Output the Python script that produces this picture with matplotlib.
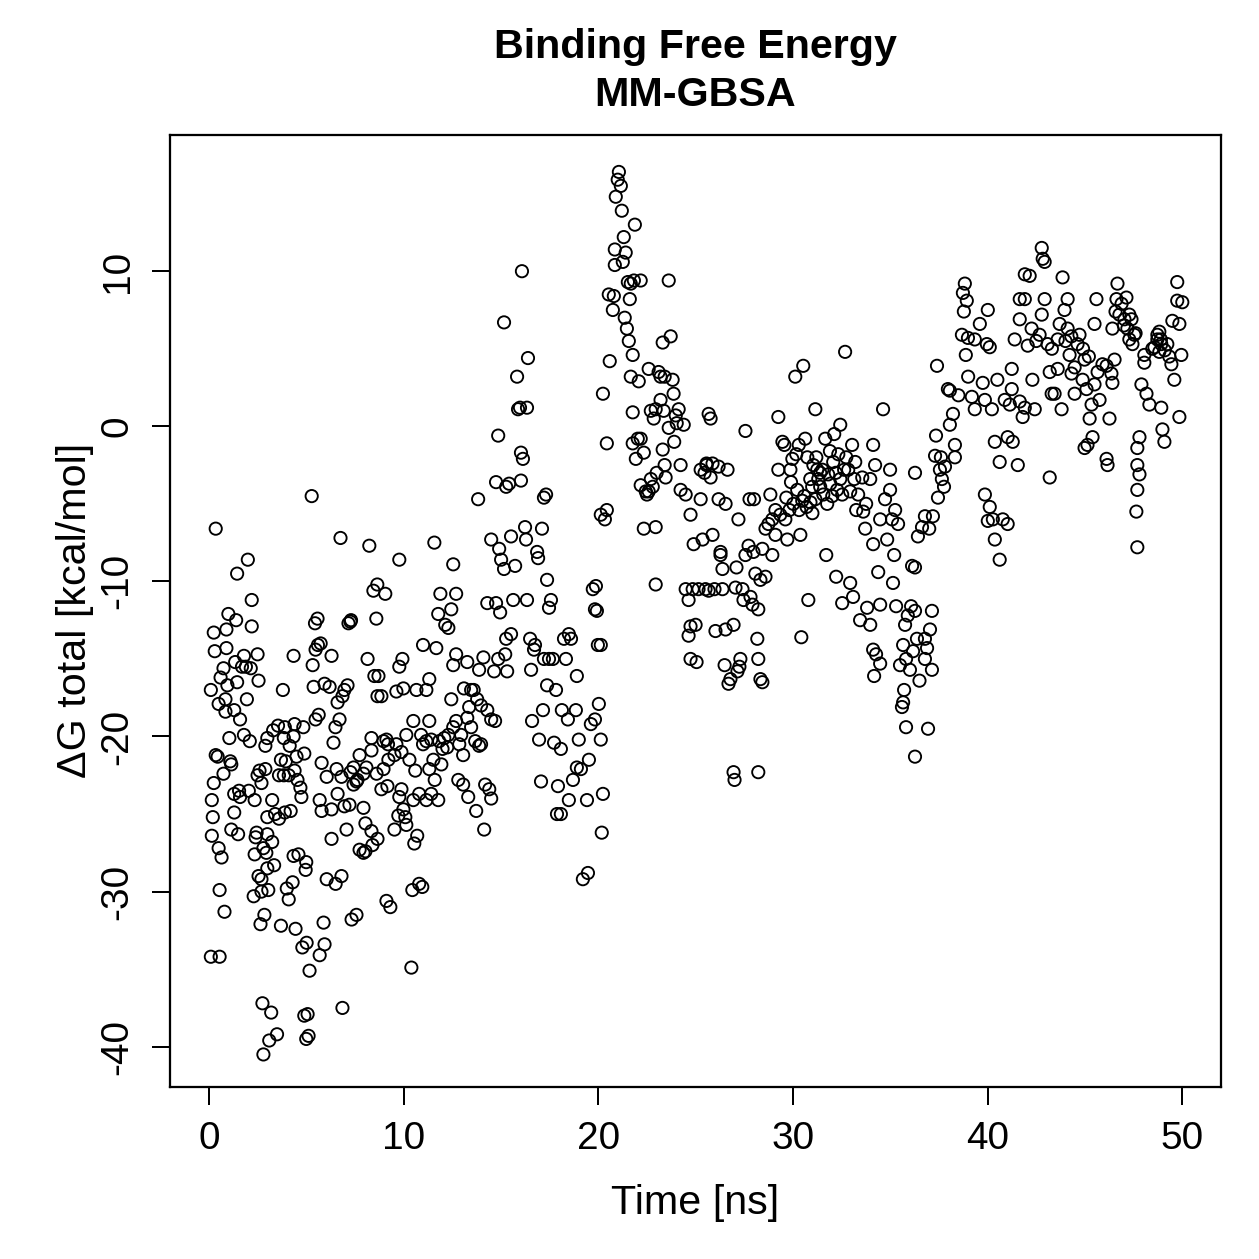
import numpy as np
import matplotlib.pyplot as plt

plt.rcParams['font.family'] = ['Liberation Sans', 'DejaVu Sans']
plt.rcParams['axes.unicode_minus'] = False

# dG total [kcal/mol] vs time [ns] in pieces of the run
seg_0_5 = [(0.1,-17.0),(0.15,-26.4),(0.2,-25.2),(0.1,-34.2),(0.55,-34.2),(0.35,-6.6),(0.3,-14.5),(0.35,-21.2),
           (0.45,-21.3),(0.5,-17.9),(0.6,-16.2),(0.55,-29.9),(0.65,-27.8),(0.75,-22.4),(0.8,-31.3),(0.85,-17.6),
           (0.85,-18.4),(0.9,-14.3),(0.95,-16.7),(1.0,-12.1),(1.05,-20.1),(1.1,-21.6),(1.15,-21.8),(1.15,-26.0),
           (1.3,-23.7),(1.3,-24.9),(1.45,-9.5),(1.4,-12.5),(1.45,-16.5),(1.5,-26.3),(1.55,-23.5),(1.6,-18.9),
           (1.7,-15.5),(1.8,-19.9),(1.9,-15.5),(1.95,-17.6),(2.0,-8.6),(2.05,-23.5),(2.1,-20.3),(2.15,-15.6),
           (2.2,-11.2),(2.2,-12.9),(2.3,-30.3),(2.4,-26.5),(2.45,-26.2),(2.5,-22.5),(2.55,-29.0),(2.6,-22.2),
           (2.65,-32.1),(2.7,-30.0),(2.75,-37.2),(2.8,-40.5),(2.85,-31.5),(2.9,-22.1),(2.95,-27.5),(3.0,-26.3),
           (3.05,-29.9),(3.1,-39.6),(3.2,-37.8),(3.25,-26.8),(3.3,-19.6),(3.35,-28.3),(3.5,-39.2),(3.4,-25.0),
           (3.55,-19.3),(3.6,-25.3),(3.7,-32.2),(3.7,-21.5),(3.8,-17.0),(3.85,-22.5),(3.9,-24.9),(3.95,-21.6),
           (4.0,-29.8),(4.1,-22.5),(4.1,-30.5),(4.2,-24.8),(4.3,-29.4),(4.35,-14.8),(4.4,-22.2),(4.45,-32.4),
           (4.5,-21.3),(4.55,-22.8),(4.6,-27.6),(4.7,-23.3),(4.75,-23.9),(4.8,-33.6),(4.9,-38.0),(4.9,-21.1),
           (5.0,-28.1),(5.0,-39.5),(3.9,-19.4),(4.4,-19.2),(4.85,-19.4),(3.85,-20.1),(4.35,-20.0),(4.15,-20.6),
           (0.25,-23.0),(2.7,-23.0),(3.6,-22.5),(1.6,-23.9),(2.35,-24.1),(3.25,-24.1),(0.15,-24.1),(3.0,-25.2),
           (2.35,-27.6),(2.8,-27.2),(4.35,-27.7),(3.0,-28.5),(2.7,-29.2),(0.5,-27.2),(0.25,-13.3),(0.9,-13.1),
           (2.5,-14.7),(1.8,-14.8),(0.75,-15.6),(1.35,-15.2),(2.55,-16.4),(1.3,-18.3),(2.9,-20.6),(3.0,-20.1)]

seg_5_10 = [(5.28,-4.5),(6.76,-7.2),(8.24,-7.7),(9.78,-8.6),(8.65,-10.2),(8.45,-10.6),(8.6,-12.4),(9.06,-10.8),
            (7.27,-12.6),(7.17,-12.7),(6.96,-17.0),(7.12,-16.7),(6.86,-17.4),(5.94,-16.6),(5.58,-12.4),(5.74,-14.0),
            (5.48,-14.4),(6.3,-14.8),(5.33,-15.4),(5.38,-16.8),(6.61,-17.8),(6.71,-18.9),(5.48,-18.9),(5.64,-18.6),
            (5.79,-21.7),(6.4,-20.4),(6.05,-22.6),(6.81,-22.6),(7.58,-22.9),(7.43,-23.1),(7.63,-22.8),(7.74,-21.2),
            (8.35,-20.1),(8.66,-17.4),(8.86,-17.4),(8.71,-16.1),(9.78,-15.5),(9.94,-15.0),(9.99,-16.9),(9.63,-17.1),
            (8.15,-15.0),(8.09,-22.0),(7.94,-22.4),(7.27,-22.3),(8.35,-20.9),(9.12,-20.2),(8.97,-20.3),(9.63,-20.5),
            (9.89,-21.0),(8.97,-22.1),(9.22,-21.5),(8.86,-23.4),(9.17,-23.2),(8.61,-22.4),(9.89,-23.4),(9.78,-23.9),
            (9.99,-24.7),(10.09,-25.2),(5.69,-24.1),(5.79,-24.8),(6.3,-24.7),(6.61,-23.7),(6.96,-24.5),(7.22,-24.4),
            (7.94,-24.6),(8.04,-25.6),(8.35,-26.1),(8.04,-27.4),(7.74,-27.3),(7.94,-27.5),(8.4,-27.0),(8.66,-26.6),
            (9.53,-26.0),(9.73,-25.1),(10.14,-25.7),(9.12,-30.6),(9.32,-31.0),(7.58,-31.5),(7.33,-31.8),(6.51,-29.5),
            (6.81,-29.0),(6.05,-29.2),(5.89,-32.0),(5.94,-33.4),(5.69,-34.1),(6.86,-37.5),(5.07,-37.9),(5.12,-39.3),
            (5.17,-35.1),(5.02,-33.3),(4.97,-28.6),(6.3,-26.6),(7.07,-26.0),(7.43,-22.0),(6.56,-22.1),(9.53,-21.2),
            (10.14,-19.9),(5.45,-12.7),(5.6,-14.1),(6.2,-16.8),(7.3,-12.5),(8.5,-16.1),(9.2,-20.5),(6.5,-19.4)]

seg_10_15 = [(10.4,-34.9),(10.45,-29.9),(10.8,-29.5),(10.96,-29.7),(10.55,-26.9),(10.7,-26.4),(10.5,-24.1),
             (10.8,-23.7),(11.17,-24.1),(11.42,-23.7),(11.78,-24.1),(11.32,-22.1),(11.53,-21.5),(11.94,-21.8),
             (12.24,-20.7),(11.0,-20.5),(11.17,-20.3),(11.42,-20.2),(11.83,-20.3),(12.09,-20.1),(12.3,-19.9),
             (10.5,-19.0),(10.9,-19.9),(11.32,-19.0),(10.66,-17.0),(11.17,-17.0),(11.32,-16.3),(11.0,-14.1),
             (11.68,-14.3),(11.58,-7.5),(11.89,-10.8),(11.78,-12.1),(12.14,-12.8),(12.45,-11.8),(12.55,-8.9),
             (12.7,-10.8),(12.3,-13.0),(12.7,-14.7),(12.55,-15.4),(12.45,-17.6),(12.7,-19.0),(12.55,-19.4),
             (12.86,-20.5),(12.96,-19.9),(13.27,-18.8),(13.47,-17.0),(13.27,-15.2),(13.47,-19.4),(13.68,-20.3),
             (13.88,-20.6),(12.81,-22.8),(13.06,-23.1),(13.32,-23.9),(13.73,-24.8),(13.06,-21.2),(13.37,-18.1),
             (13.78,-17.6),(13.98,-18.0),(13.98,-20.5),(13.88,-15.7),(13.83,-4.7),(14.14,-26.0),(14.19,-23.1),
             (14.4,-23.4),(14.5,-24.0),(14.3,-11.4),(14.5,-7.3),(14.65,-15.8),(14.5,-18.9),(14.3,-18.3),
             (14.7,-19.0),(14.86,-15.0),(14.75,-11.4),(14.96,-12.0),(14.86,-0.6),(14.91,-7.9),(15.01,-8.6),
             (14.75,-3.6),(10.3,-21.5),(10.6,-22.2),(11.6,-22.8),(12.0,-20.8),(13.1,-16.9),(13.6,-17.0),(14.1,-14.9)]

seg_15_24 = [(15.16,6.7),(15.16,-9.2),(15.27,-3.9),(15.42,-3.7),(15.27,-13.7),(15.22,-14.7),(15.32,-15.8),
             (15.52,-13.4),(15.52,-7.1),(15.63,-11.2),(15.73,-9.0),(15.83,3.2),(15.88,1.1),(15.98,1.2),(16.03,-3.5),
             (16.08,10.0),(16.03,-1.7),(16.13,-2.1),(16.34,1.2),(16.39,4.4),(16.24,-6.5),(16.29,-7.3),(16.34,-11.2),
             (16.5,-13.7),(16.55,-15.7),(16.6,-19.0),(16.7,-14.4),(16.75,-14.1),(16.86,-8.1),(16.91,-8.5),
             (16.96,-20.2),(17.06,-22.9),(17.11,-6.6),(17.21,-4.6),(17.32,-4.4),(17.16,-18.3),(17.21,-15.0),
             (17.37,-16.7),(17.47,-15.0),(17.37,-9.9),(17.47,-11.7),(17.57,-11.2),(17.67,-15.0),(17.83,-17.0),
             (17.73,-20.4),(17.88,-25.0),(18.08,-25.0),(17.93,-23.2),(18.08,-20.8),(18.13,-18.3),(18.24,-13.7),
             (18.34,-15.0),(18.49,-13.4),(18.6,-13.7),(18.44,-18.9),(18.49,-24.1),(18.7,-22.8),(18.85,-18.3),
             (18.9,-16.1),(19.0,-20.2),(18.9,-22.0),(19.11,-22.1),(19.21,-29.2),(19.47,-28.8),(19.42,-24.1),
             (19.52,-21.5),(19.62,-19.2),(19.72,-10.5),(19.88,-10.3),(19.83,-11.8),(19.93,-11.9),(19.98,-14.1),
             (20.03,-17.9),(19.83,-18.9),(20.13,-20.2),(20.24,-23.7),(20.18,-26.2),(20.13,-14.1),(20.13,-5.7),
             (20.34,-6.0),(20.44,-5.4),(20.44,-1.1),(20.24,2.1),(20.59,4.2),(20.54,8.5),(20.75,7.5),(20.8,8.4),
             (20.85,10.4),(20.85,11.4),(20.9,14.8),(21.0,15.9),(21.06,16.4),(21.16,15.5),(21.21,13.9),(21.26,10.6),
             (21.31,12.2),(21.41,11.2),(21.52,9.3),(21.62,8.2),(21.67,9.2),(21.88,13.0),(21.83,9.4),(21.36,7.0),
             (21.47,6.3),(21.57,5.5),(21.77,4.6),(22.18,9.4),(21.67,3.2),(21.77,0.9),(21.77,-1.1),(21.93,-2.1),
             (22.08,2.9),(22.03,-0.8),(22.18,-0.8),(22.34,-1.7),(22.18,-3.8),(22.44,-4.2),(22.59,-4.2),(22.34,-6.6),
             (22.7,-3.4),(22.8,-3.9),(22.7,1.0),(22.59,3.7),(22.85,0.5),(22.95,1.1),(22.95,-6.5),(22.95,-10.2),
             (23.1,3.5),(23.2,3.2),(23.31,5.4),(23.41,3.2),(23.2,1.7),(23.36,1.0),(23.31,-1.5),(23.41,-2.5),
             (23.46,-3.3),(23.62,-0.1),(23.62,9.4),(23.72,5.8),(23.82,3.0),(23.87,2.1),(23.98,0.7),(24.03,0.2),
             (24.13,1.1),(24.23,-4.1),(24.39,0.1),(24.49,-4.4),(24.23,-2.5),(22.5,-4.4),(23.0,-3.0),(23.9,-1.0)]

seg_24_34 = [(24.49,-10.5),(24.64,-11.2),(24.64,-13.5),(24.74,-15.0),(24.74,-12.9),(24.9,-7.6),(24.74,-5.7),
             (24.85,-10.5),(25.0,-12.8),(25.05,-15.2),(25.15,-10.5),(25.26,-2.8),(25.26,-4.7),(25.36,-7.3),
             (25.46,-3.0),(25.56,-2.5),(25.67,0.8),(25.77,0.5),(25.51,-10.5),(25.67,-10.6),(25.56,-2.4),(25.77,-3.3),
             (25.87,-2.4),(25.87,-7.0),(25.97,-10.5),(26.02,-13.2),(26.18,-4.7),(26.18,-2.6),(26.28,-8.1),
             (26.28,-8.3),(26.38,-9.2),(26.38,-10.5),(26.49,-15.4),(26.54,-5.0),(26.54,-13.1),(26.64,-2.8),
             (26.69,-16.6),(26.79,-16.3),(26.95,-22.3),(27.0,-22.8),(27.05,-10.4),(26.95,-12.8),(27.1,-9.1),
             (27.15,-15.8),(27.25,-15.5),(27.3,-15.0),(27.2,-6.0),(27.41,-10.5),(27.56,-0.3),(27.46,-11.2),
             (27.56,-8.3),(27.72,-7.7),(27.77,-4.7),(27.82,-11.0),(27.92,-11.5),(27.97,-8.1),(28.07,-9.5),
             (28.17,-13.7),(28.22,-11.8),(28.22,-15.0),(28.22,-22.3),(28.33,-16.3),(28.43,-16.5),(28.33,-9.9),
             (28.43,-7.9),(28.59,-9.7),(28.59,-6.6),(28.74,-6.3),(28.94,-6.0),(28.84,-4.4),(28.94,-8.3),(29.1,-7.0),
             (29.1,-5.4),(29.25,0.6),(29.25,-2.8),(29.35,-5.7),(29.46,-1.0),(29.56,-1.2),(29.61,-6.0),(29.66,-4.6),
             (29.71,-7.3),(29.82,-5.4),(29.87,-2.8),(29.97,-2.1),(30.02,-5.0),(30.12,3.2),(30.17,-1.8),(30.22,-4.1),
             (30.32,-5.4),(30.38,-7.0),(30.43,-13.6),(30.48,-4.8),(30.53,3.9),(30.58,-4.5),(30.63,-0.8),(30.74,-2.0),
             (30.79,-11.2),(30.89,-3.4),(30.99,-3.9),(31.05,-2.5),(31.15,1.1),(31.15,-4.7),(31.25,-2.8),(31.3,-3.4),
             (31.4,-3.9),(31.51,-2.8),(31.56,-4.4),(31.66,-0.8),(31.71,-8.3),(31.76,-5.0),(31.81,-3.1),(31.92,-3.7),
             (32.02,-4.5),(32.07,-2.3),(32.12,-0.5),(32.22,-9.7),(32.27,-4.1),(32.33,-1.8),(32.43,0.1),(32.43,-3.4),
             (32.53,-11.4),(32.53,-4.4),(32.63,-2.8),(32.68,4.8),(32.74,-2.0),(32.84,-2.8),(32.94,-10.1),
             (32.94,-4.2),(33.04,-1.2),(33.09,-11.0),(33.15,-3.4),(33.2,-2.3),(33.25,-5.4),(33.35,-4.4),
             (33.45,-12.5),(33.56,-3.3),(33.61,-5.5),(33.71,-6.6),(33.76,-5.0),(31.0,-5.6),(31.4,-3.0),(30.9,-4.9),
             (29.9,-3.6),(30.7,-5.2),(31.9,-1.6),(32.2,-3.0),(28.0,-4.7),(31.2,-2.0),(30.3,-1.2)]

seg_34_38 = [(34.63,1.1),(34.12,-1.2),(34.12,-7.6),(34.84,-7.3),(34.38,-9.4),(35.14,-10.1),(34.48,-11.5),
             (33.97,-12.8),(33.81,-11.7),(34.12,-14.4),(34.17,-16.1),(34.27,-14.7),(34.48,-15.3),(34.73,-4.7),
             (34.99,-4.1),(35.25,-5.4),(35.4,-6.3),(35.76,-12.8),(35.66,-14.1),(35.5,-15.4),(35.81,-15.0),
             (35.66,-17.8),(35.6,-18.1),(35.71,-17.0),(35.81,-19.4),(36.12,-9.0),(36.27,-9.1),(36.07,-11.6),
             (36.27,-11.9),(36.37,-13.7),(36.17,-14.5),(36.01,-15.7),(36.78,-15.0),(36.89,-14.3),(37.04,-13.1),
             (37.14,-11.9),(36.78,-13.7),(37.14,-15.7),(36.94,-19.5),(36.27,-21.3),(36.27,-3.0),(36.42,-7.1),
             (36.63,-6.5),(36.78,-5.8),(37.19,-5.8),(37.35,-0.6),(37.3,-1.9),(37.55,-2.8),(37.65,-3.4),
             (37.45,-4.6),(37.76,-3.9),(37.81,-2.6),(37.6,-2.0),(33.97,-3.4),(34.22,-2.5),(34.48,-6.0),
             (35.09,-6.0),(34.99,-2.8),(35.3,-11.6),(35.9,-12.2),(36.5,-16.4),(35.2,-8.3),(37.0,-6.6)]

seg_38_50 = [(37.4,3.9),(37.96,2.4),(38.06,2.3),(38.22,0.8),(38.06,0.1),(38.32,-1.2),(38.32,-2.0),(38.68,5.9),
             (38.78,7.4),(38.83,9.2),(38.73,8.6),(38.93,8.1),(38.99,5.7),(38.88,4.6),(39.34,5.6),(39.6,6.6),
             (39.19,1.9),(39.34,1.1),(39.75,2.8),(39.86,1.7),(39.96,5.3),(40.11,5.1),(40.01,7.5),(40.22,1.1),
             (39.86,-4.4),(40.11,-5.2),(40.01,-6.1),(40.27,-6.0),(40.37,-7.3),(40.62,-8.6),(40.37,-1.0),
             (40.62,-2.3),(41.03,-0.7),(40.78,-6.0),(41.03,-6.3),(41.24,2.4),(41.14,1.4),(41.24,3.7),(41.39,5.6),
             (41.65,6.9),(41.65,8.2),(41.91,8.2),(41.91,9.8),(42.16,9.7),(42.06,5.2),(42.26,6.3),(41.55,-2.5),
             (41.29,-1.0),(41.65,1.6),(41.91,1.2),(42.42,1.1),(42.67,5.9),(42.78,7.2),(42.93,8.2),(42.83,10.8),
             (42.78,11.5),(42.93,10.6),(43.08,5.3),(43.19,3.5),(43.19,-3.3),(43.29,2.1),(43.44,2.1),(43.6,3.7),
             (43.8,1.1),(43.6,5.6),(43.7,6.6),(43.95,7.5),(43.85,9.6),(44.11,8.2),(44.11,6.3),(44.21,4.6),
             (44.31,3.4),(44.47,3.8),(44.47,2.1),(44.62,5.3),(44.72,5.9),(44.98,4.3),(44.88,3.0),(45.08,2.4),
             (45.24,0.5),(45.39,-0.7),(45.13,-1.2),(44.98,-1.4),(45.34,1.4),(45.49,2.7),(45.59,8.2),(45.49,6.6),
             (45.65,3.5),(45.75,1.7),(45.9,4.0),(46.11,-2.1),(46.16,-2.5),(46.26,0.5),(46.11,3.9),(46.36,3.4),
             (46.52,4.3),(46.41,2.8),(46.62,8.2),(46.67,9.2),(46.57,7.4),(46.41,6.3),(46.77,7.2),(46.88,7.9),
             (47.03,6.9),(47.13,8.3),(47.18,6.3),(47.28,7.2),(47.39,6.9),(47.54,5.9),(47.28,5.6),(47.44,5.3),
             (47.69,-1.4),(47.8,-0.7),(47.69,-2.5),(47.8,-3.1),(47.69,-4.1),(47.64,-5.5),(47.69,-7.8),(47.9,2.7),
             (48.05,4.6),(48.05,4.1),(48.16,2.1),(48.31,1.4),(48.46,5.0),(48.57,5.1),(48.72,5.9),(48.82,6.1),
             (48.72,5.6),(48.82,4.8),(48.92,5.3),(48.98,-0.2),(49.08,-1.0),(48.92,1.2),(49.23,5.3),(49.33,4.5),
             (49.44,4.0),(49.49,6.8),(49.59,3.0),(49.74,8.1),(49.74,9.3),(49.85,6.6),(49.95,4.6),(49.85,0.6),
             (50.0,8.0),(40.88,1.7),(38.5,2.0),(39.0,3.2),(42.5,5.5),(43.3,5.0),(44.0,5.5),(44.3,5.8),(44.9,5.0),
             (45.2,4.5),(47.0,6.5),(47.6,6.0),(48.9,5.6),(49.1,4.9),(42.3,3.0),(40.5,3.0),(41.8,0.6)]

segments = [seg_0_5, seg_5_10, seg_10_15, seg_15_24, seg_24_34, seg_34_38, seg_38_50]
pts = np.array([p for seg in segments for p in seg])
time_ns = pts[:, 0]
dg_total = pts[:, 1]

fig = plt.figure(figsize=(1259 / 180, 1259 / 180), dpi=180)
ax = fig.add_axes([0.135, 0.1366, 0.835, 0.7564])

ax.scatter(time_ns, dg_total, s=24, facecolors='none', edgecolors='black', linewidths=0.75)

ax.set_xlim(-2, 52)
ax.set_ylim(-42.6, 18.8)
ax.set_xticks([0, 10, 20, 30, 40, 50])
ax.set_yticks([-40, -30, -20, -10, 0, 10])
ax.tick_params(direction='out', length=7.2, width=0.8, labelsize=15.5, pad=6.5)
for lab in ax.get_yticklabels():
    lab.set_rotation(90)
    lab.set_va('center')
for s in ax.spines.values():
    s.set_linewidth(0.9)

ax.set_xlabel('Time [ns]', fontsize=16.5)
ax.set_ylabel('ΔG total [kcal/mol]', fontsize=16.5)
ax.xaxis.set_label_coords(0.5, -0.1218)
ax.xaxis.label.set_va('center')
ax.yaxis.set_label_coords(-0.0903, 0.5)
ax.yaxis.label.set_va('center')

fig.text(0.5524, 0.9627, 'Binding Free Energy', ha='center', va='center', fontsize=16.5, fontweight='bold')
fig.text(0.5524, 0.9245, 'MM-GBSA', ha='center', va='center', fontsize=16.5, fontweight='bold')

fig.savefig('out.png', dpi=180)
